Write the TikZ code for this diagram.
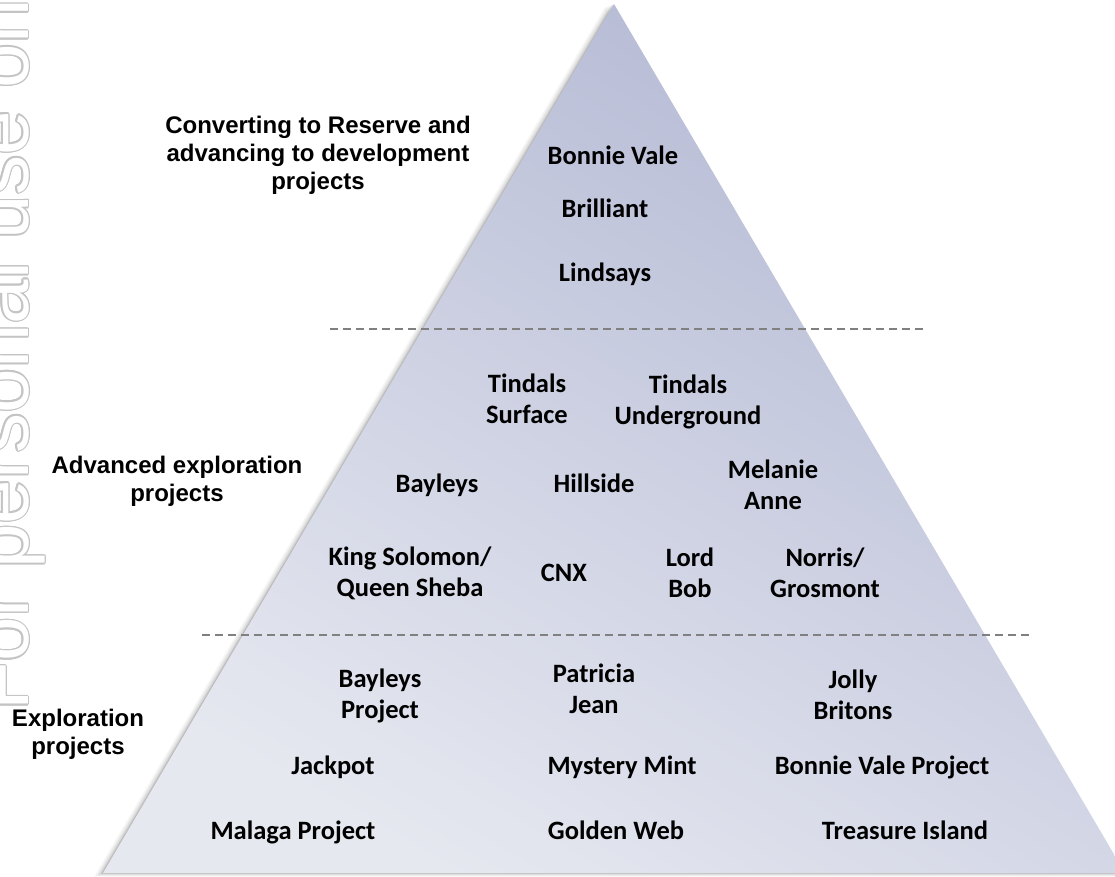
\documentclass[tikz,border=0pt]{standalone}
\usepackage{fontspec}
\setmainfont{Liberation Sans}
\newfontfamily\calib{Carlito}
\definecolor{triTop}{RGB}{180,185,212}
\definecolor{triBot}{RGB}{230,232,240}
\definecolor{dashgray}{RGB}{128,128,128}
\definecolor{wmgray}{RGB}{196,196,196}
\begin{document}
\begin{tikzpicture}[x=1pt,y=1pt,
  lbl/.style={font=\fontsize{24}{28}\selectfont\bfseries, align=center, inner sep=0pt},
  item/.style={font=\calib\fontsize{26.5}{31}\selectfont\bfseries, align=center, inner sep=0pt},
  sep/.style={draw=dashgray, line width=1.6pt, dash pattern=on 8pt off 5pt},
  wm/.style={font=\fontsize{80}{80}\selectfont, rotate=90, anchor=base west, inner sep=0pt}]
\useasboundingbox (0,0) rectangle (1115,-877);
\clip (0,0) rectangle (1115,-877);
\fill[white] (0,0) rectangle (1115,-877);
% watermark
\foreach \a in {0,30,...,359}{
  \node[wm, text=wmgray] at ({28+1.5*cos(\a)},{-711+1.5*sin(\a)}) {For personal use only};
}
\node[wm, text=white] (wmk) at (28,-711) {For personal use only};
% triangle shadow
\foreach \d/\o in {9/0.03,7/0.04,5/0.05,3/0.07,1.5/0.10}{
  \fill[black,opacity=\o] ({614-\d},{-4-0.3*\d}) -- ({103-\d},{-873-0.4*\d}) -- ({1125-\d},{-873-0.4*\d}) -- cycle;
}
% triangle
\shade[top color=triTop, bottom color=triBot, shading angle=-30] (614,-4) -- (103,-873) -- (1125,-873) -- cycle;
% separators
\draw[sep] (330,-329) -- (927,-329);
\draw[sep] (202,-635) -- (1030,-635);
% left labels
\node[lbl] (l1) at (318,-155) {Converting to Reserve and\\advancing to development\\projects};
\node[lbl] (l2) at (177,-481) {Advanced exploration\\projects};
\node[lbl] (l3) at (78,-734) {Exploration\\projects};
% top tier
\node[item, anchor=base] (bv) at (613,-165) {Bonnie Vale};
\node[item, anchor=base] (br) at (605,-218) {Brilliant};
\node[item, anchor=base] (li) at (605,-281) {Lindsays};
% middle tier
\node[item] (ts) at (527,-399) {Tindals\\Surface};
\node[item] (tu) at (688,-402) {Tindals\\Underground};
\node[item, anchor=base] (ba) at (437,-492) {Bayleys};
\node[item, anchor=base] (hi) at (594,-492) {Hillside};
\node[item] (ma) at (773,-485) {Melanie\\Anne};
\node[item] (ks) at (410,-573) {King Solomon/\\Queen Sheba};
\node[item, anchor=base] (cnx) at (564,-581) {CNX};
\node[item] (lb) at (690,-573) {Lord\\Bob};
\node[item] (ng) at (825,-573) {Norris/\\Grosmont};
% bottom tier
\node[item] (bp) at (380,-696) {Bayleys\\Project};
\node[item] (pj) at (594,-689) {Patricia\\Jean};
\node[item] (jb) at (853,-695) {Jolly\\Britons};
\node[item, anchor=base] (jp) at (333,-774) {Jackpot};
\node[item, anchor=base] (mm) at (622,-774) {Mystery Mint};
\node[item, anchor=base] (bvp) at (882,-774) {Bonnie Vale Project};
\node[item, anchor=base] (mp) at (293,-839) {Malaga Project};
\node[item, anchor=base] (gw) at (616,-839) {Golden Web};
\node[item, anchor=base] (ti) at (905,-839) {Treasure Island};
\end{tikzpicture}
\end{document}
